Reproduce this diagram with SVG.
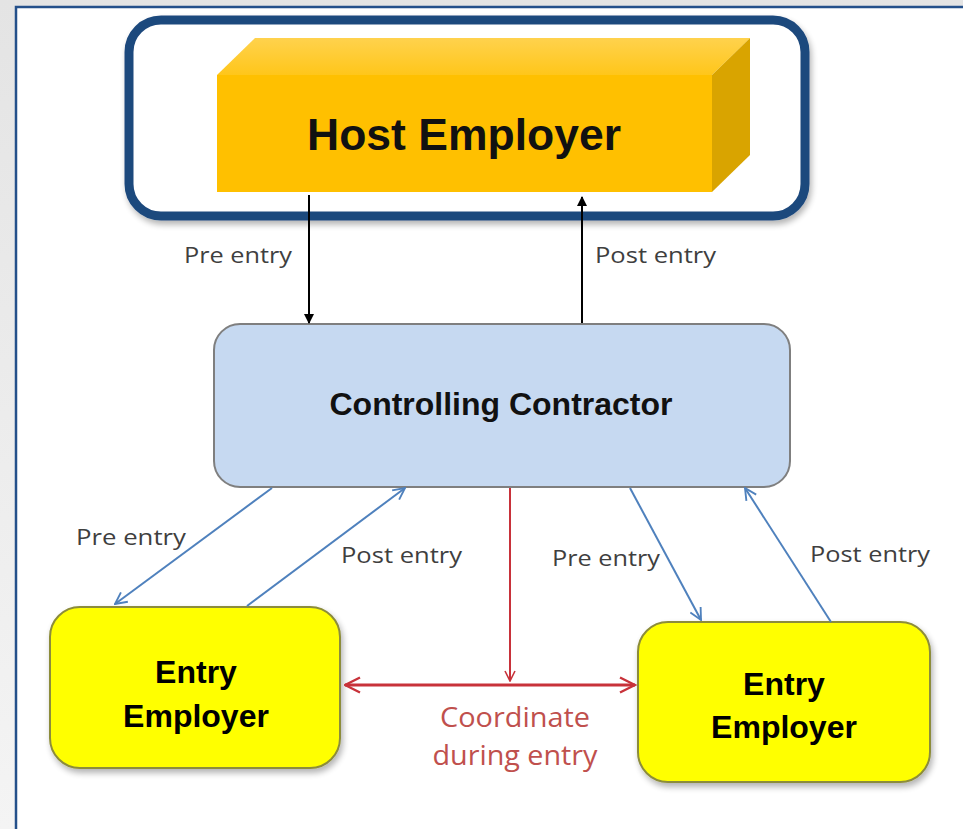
<svg xmlns="http://www.w3.org/2000/svg" width="963" height="829" viewBox="0 0 963 829">
<defs>
<linearGradient id="side" x1="0" y1="0" x2="0" y2="1">
<stop offset="0" stop-color="#e4e4e4"/>
<stop offset="1" stop-color="#f4f4f4"/>
</linearGradient>
<linearGradient id="topface" x1="0" y1="0" x2="0" y2="1">
<stop offset="0" stop-color="#ffd24d"/>
<stop offset="1" stop-color="#ffc61a"/>
</linearGradient>
<filter id="sh" x="-10%" y="-10%" width="120%" height="130%">
<feGaussianBlur in="SourceAlpha" stdDeviation="3"/>
<feOffset dx="2" dy="4"/>
<feComponentTransfer><feFuncA type="linear" slope="0.3"/></feComponentTransfer>
<feMerge><feMergeNode/><feMergeNode in="SourceGraphic"/></feMerge>
</filter>
<marker id="blk" viewBox="0 0 10 10" refX="9" refY="5" markerWidth="5" markerHeight="5" orient="auto" markerUnits="strokeWidth">
<path d="M0,0 L10,5 L0,10 z" fill="#000"/>
</marker>
<marker id="blu" viewBox="0 0 12 12" refX="11" refY="6" markerWidth="7" markerHeight="7" orient="auto" markerUnits="strokeWidth">
<path d="M1,1 L11,6 L1,11" fill="none" stroke="#4f81bd" stroke-width="1.6"/>
</marker>
<marker id="red" viewBox="0 0 12 12" refX="11" refY="6" markerWidth="6" markerHeight="6" orient="auto-start-reverse" markerUnits="strokeWidth">
<path d="M1,1 L11,6 L1,11" fill="none" stroke="#c8323a" stroke-width="1.6"/>
</marker>
</defs>
<style>
.lbl{font-family:"Open Sans","DejaVu Sans",sans-serif;font-size:22px;fill:#3f3f3f}
.red{font-family:"Open Sans","DejaVu Sans",sans-serif;font-size:27px;fill:#c0504d}
.ent{font-family:"Liberation Sans",Arial,sans-serif;font-weight:bold;font-size:32px;fill:#000}
.blue{stroke:#4f81bd;stroke-width:2;fill:none}
</style>
<rect x="0" y="0" width="963" height="829" fill="url(#side)"/>
<rect x="16" y="7" width="947" height="822" fill="#fff"/>
<path d="M16,829 V7 H963" fill="none" stroke="#24508a" stroke-width="2.5"/>

<g id="host">
<rect x="129" y="20" width="676" height="196" rx="32" fill="#fff" stroke="#1f497d" stroke-width="9" filter="url(#sh)"/>
<polygon points="217,75 255,38 750,38 712,75" fill="url(#topface)"/>
<polygon points="712,75 750,38 750,155 712,192" fill="#d9a400"/>
<rect x="217" y="75" width="495" height="117" fill="#ffc000"/>
<text x="464" y="150" text-anchor="middle" font-family="Liberation Sans,Arial,sans-serif" font-weight="bold" font-size="45" fill="#111" textLength="314" lengthAdjust="spacingAndGlyphs">Host Employer</text>
</g>

<g id="controlling-contractor">
<rect x="214" y="324" width="576" height="163" rx="26" fill="#c6d9f1" stroke="#7f7f7f" stroke-width="2"/>
<text x="501" y="415" text-anchor="middle" font-family="Liberation Sans,Arial,sans-serif" font-weight="bold" font-size="31" fill="#111" textLength="343" lengthAdjust="spacingAndGlyphs">Controlling Contractor</text>
</g>

<g id="entry-left">
<rect x="50" y="607" width="290" height="161" rx="30" fill="#ffff00" stroke="#8c8c3a" stroke-width="2" filter="url(#sh)"/>
<text x="196" y="683" text-anchor="middle" class="ent">Entry</text>
<text x="196" y="727" text-anchor="middle" class="ent">Employer</text>
</g>

<g id="entry-right">
<rect x="638" y="622" width="292" height="160" rx="30" fill="#ffff00" stroke="#8c8c3a" stroke-width="2" filter="url(#sh)"/>
<text x="784" y="695" text-anchor="middle" class="ent">Entry</text>
<text x="784" y="738" text-anchor="middle" class="ent">Employer</text>
</g>

<g id="connectors">
<line x1="309" y1="195" x2="309" y2="323" stroke="#000" stroke-width="2" marker-end="url(#blk)"/>
<line x1="582" y1="323" x2="582" y2="197" stroke="#000" stroke-width="2" marker-end="url(#blk)"/>
<line x1="272" y1="488" x2="115" y2="604" class="blue" marker-end="url(#blu)"/>
<line x1="247" y1="606" x2="405" y2="488" class="blue" marker-end="url(#blu)"/>
<line x1="630" y1="488" x2="701" y2="620" class="blue" marker-end="url(#blu)"/>
<line x1="831" y1="622" x2="745" y2="488" class="blue" marker-end="url(#blu)"/>
<line x1="510" y1="488" x2="510" y2="681" stroke="#c8323a" stroke-width="2" marker-end="url(#red)"/>
<line x1="345" y1="685" x2="635" y2="685" stroke="#c8323a" stroke-width="3" marker-start="url(#red)" marker-end="url(#red)"/>
</g>

<g id="labels">
<text x="184" y="263" class="lbl" textLength="108" lengthAdjust="spacingAndGlyphs">Pre entry</text>
<text x="595" y="263" class="lbl" textLength="121" lengthAdjust="spacingAndGlyphs">Post entry</text>
<text x="76" y="545" class="lbl" textLength="110" lengthAdjust="spacingAndGlyphs">Pre entry</text>
<text x="341" y="563" class="lbl" textLength="121" lengthAdjust="spacingAndGlyphs">Post entry</text>
<text x="552" y="566" class="lbl" textLength="108" lengthAdjust="spacingAndGlyphs">Pre entry</text>
<text x="810" y="562" class="lbl" textLength="120" lengthAdjust="spacingAndGlyphs">Post entry</text>
<text x="515" y="727" text-anchor="middle" class="red" textLength="150" lengthAdjust="spacingAndGlyphs">Coordinate</text>
<text x="515" y="765" text-anchor="middle" class="red" textLength="165" lengthAdjust="spacingAndGlyphs">during entry</text>
</g>
</svg>
